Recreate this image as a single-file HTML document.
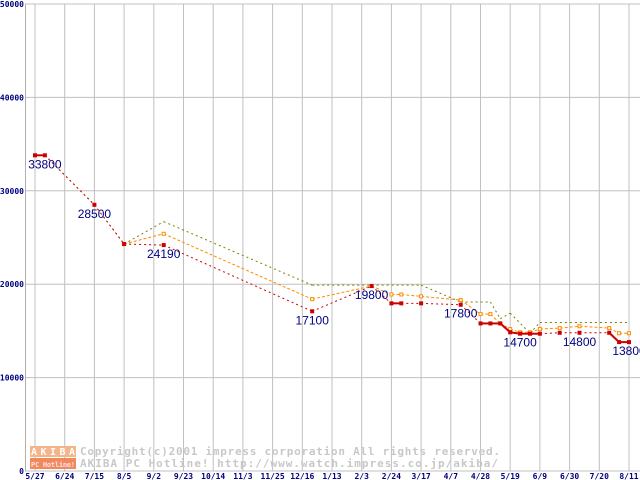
<!DOCTYPE html>
<html><head><meta charset="utf-8"><style>
html,body{margin:0;padding:0;background:#fff;width:640px;height:480px;overflow:hidden}
svg{display:block}
.tk{font-family:"DejaVu Sans Mono","Liberation Mono",monospace;font-size:8px;fill:#000080;font-weight:bold}
.lb{font-family:"Liberation Sans",sans-serif;font-size:12px;fill:#000080}
.wm{font-family:"DejaVu Sans Mono","Liberation Mono",monospace;font-size:11px;fill:#c8c8c8;font-weight:bold}
</style></head><body>
<svg id="chart" width="640" height="480" xmlns="http://www.w3.org/2000/svg">
<g id="grid"></g>
<g>
<rect x="30" y="446" width="46" height="11" fill="#f5b58a"/>
<rect x="30" y="458" width="46" height="11" fill="#f08a5a"/>
<text class="wm" x="31" y="455" textLength="44" style="fill:#fff;font-size:10px">AKIBA</text>
<text class="wm" x="31" y="467" textLength="44" style="fill:#fde;font-size:7px">PC Hotline!</text>
<text class="wm" x="80" y="455" textLength="420">Copyright(c)2001 impress corporation All rights reserved.</text>
<text class="wm" x="80" y="467" textLength="418">AKIBA PC Hotline!  http://www.watch.impress.co.jp/akiba/</text>
</g>
<g id="series"></g>
<g id="labels"></g>
</svg>
<script>
const xLabels=["5/27","6/24","7/15","8/5","9/2","9/23","10/14","11/3","11/25","12/16","1/13","2/3","2/24","3/17","4/7","4/28","5/19","6/9","6/30","7/20","8/11"];
const yTicks=[0,10000,20000,30000,40000,50000];
const redWeeks=[0,1,6,9,13,28,34,36,37,39,43,45,46,47,48,49,50,51,53,55,58,59,60];
const redVals=[33800,33800,28500,24300,24190,17100,19800,17950,17950,17950,17800,15800,15800,15800,14850,14700,14700,14700,14800,14800,14800,13800,13800];
const orangeWeeks=[9,13,28,34,36,37,39,43,45,46,47,48,49,50,51,53,55,58,59,60];
const orangeVals=[24300,25400,18400,19800,18900,18900,18700,18300,16800,16800,15800,15200,14850,14850,15200,15300,15500,15300,14750,14750];
const oliveWeeks=[0,1,6,9,13,28,34,39,43,46,47,48,50,51,60];
const oliveVals=[33800,33800,28500,24300,26700,19900,19900,19900,18100,18100,16300,16900,14750,15900,15900];
const labelWeeks=[1,6,13,28,34,43,49,55,60];
const labelVals=[33800,28500,24190,17100,19800,17800,14700,14800,13800];
const NS="http://www.w3.org/2000/svg";
const X=k=>35+k*9.9;
const Y=v=>471-v*0.00934;
function mk(tag,attrs,parent){const e=document.createElementNS(NS,tag);for(const a in attrs)e.setAttribute(a,attrs[a]);parent.appendChild(e);return e;}
const grid=document.getElementById('grid');
yTicks.forEach(v=>{
 const l=mk('line',{x1:25,x2:640,y1:Y(v),y2:Y(v),stroke:'#c0c0c0'},grid);
 
 
 const t=mk('text',{x:24,y:Y(v)+3,'text-anchor':'end',class:'tk'},grid);
 t.textContent=v;
 
 
});
xLabels.forEach((s,i)=>{
 const x=X(i*3);
 const l=mk('line',{x1:x,x2:x,y1:4,y2:471,stroke:'#c0c0c0'},grid);
 
 
 const t=mk('text',{x:x,y:479,'text-anchor':'middle',class:'tk'},grid);
 t.textContent=s;
 
 
});
const ax=mk('line',{x1:25.5,x2:25.5,y1:4,y2:471,stroke:'#b0b0b0'},grid);


const ser=document.getElementById('series');
function draw(weeks,vals,color,dash,marker,solidConsec,name){
 for(let i=0;i<weeks.length-1;i++){
  const solid=solidConsec&&weeks[i+1]-weeks[i]===1;
  const l=mk('line',{x1:X(weeks[i]),y1:Y(vals[i]),x2:X(weeks[i+1]),y2:Y(vals[i+1]),stroke:color,'stroke-width':solid?2:1,'stroke-dasharray':solid?'none':dash},ser);
  
  
 }
 if(marker)weeks.forEach((k,i)=>{
  const r=mk('rect',{x:X(k)-2,y:Y(vals[i])-2,width:4,height:4,fill:marker==='fill'?color:'#fff',stroke:color,'stroke-width':marker==='fill'?0:1},ser);
  if(marker!=='fill'){r.setAttribute('width',3);r.setAttribute('height',3);r.setAttribute('x',X(k)-1.5);r.setAttribute('y',Y(vals[i])-1.5);}
  
  
 });
}
draw(oliveWeeks,oliveVals,'#808000','2,3',null,false,'olive-series');
draw(orangeWeeks,orangeVals,'#ff8c00','3,2','open',false,'orange-series');
draw(redWeeks,redVals,'#cc0000','2,3','fill',true,'red-series');
const lab=document.getElementById('labels');
labelWeeks.forEach((k,i)=>{
 const t=mk('text',{x:X(k),y:Y(labelVals[i])+13,'text-anchor':'middle',class:'lb'},lab);
 t.textContent=labelVals[i];
 
 
});
</script>
</body></html>
